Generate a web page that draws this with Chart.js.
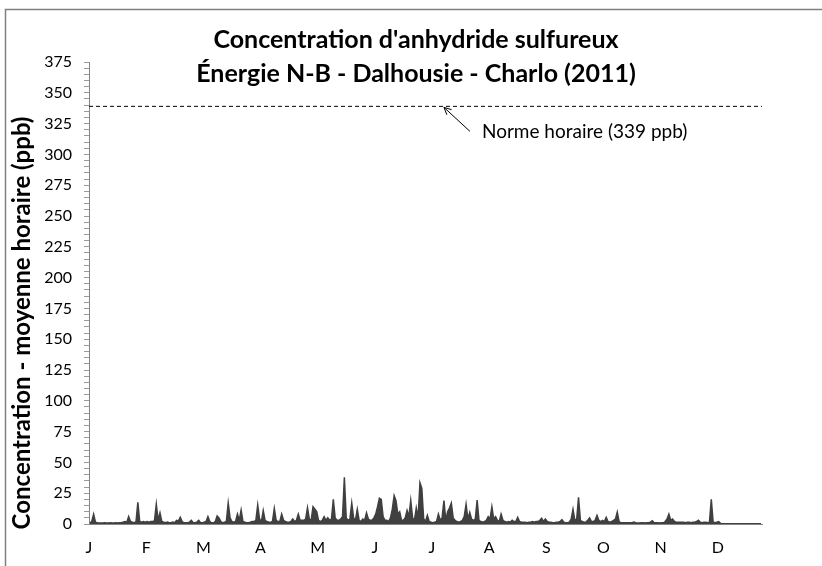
<!DOCTYPE html>
<html>
<head>
<meta charset="utf-8">
<script src="https://cdn.jsdelivr.net/npm/chart.js@4"></script>
<style>
html, body { margin: 0; padding: 0; background: #fff; }
</style>
</head>
<body>
<canvas id="canvas" width="822" height="566"></canvas>
<script>
// Titles and labels
var chartTitle = ["Concentration d'anhydride sulfureux", "Énergie N-B - Dalhousie - Charlo (2011)"];
var yAxisTitle = "Concentration - moyenne horaire (ppb)";
var normLabel = "Norme horaire (339 ppb)";
var normValue = 339;

// x axis: one label every 31 days
var monthLabels = ['J', 'F', 'M', 'A', 'M', 'J', 'J', 'A', 'S', 'O', 'N', 'D'];
var monthTicks = [0, 31, 62, 93, 124, 155, 186, 217, 248, 279, 310, 341];
var yMax = 375;

// daily peak of hourly SO2 (ppb)
var jan = [1, 2, 8, 1.5, 1, 0.8, 0.8, 0.8, 1, 0.8, 0.8, 1, 0.8, 0.8, 1, 0.8, 1, 1, 1.5, 2, 1.5, 6, 2, 1.5, 1, 2, 17.6, 2, 1.5, 2, 1.5];
var feb = [2, 1.5, 2, 2, 2.5, 16, 3, 9, 2, 1.5, 1, 1.5, 1, 1, 1.5, 1, 3, 2.5, 5.4, 2, 1, 1, 1, 1.5, 3, 1, 1, 1.5];
var mar = [3, 1, 1, 1.5, 2, 6, 2, 1, 1, 2, 6.5, 5, 2, 1, 1.5, 2, 17, 5, 2, 1.5, 2, 8, 3, 11.4, 2, 1.5, 1, 1, 1.5, 2, 2];
var apr = [3, 15.4, 4, 2, 11, 3, 2, 1.5, 1.5, 2, 12.7, 3, 2, 2, 8, 3, 2, 1.5, 1.5, 2, 4, 2, 3, 8, 3, 3, 3, 4, 13.3, 4];
var may = [3, 14, 12, 10, 3, 2, 3, 6, 3, 5, 3, 4, 20, 5, 3, 3, 4, 6, 38, 5, 3, 4, 17, 5, 3, 12, 3, 2, 4, 3, 9];
var jun = [4, 3, 3, 5, 8, 14, 21, 20, 6, 3, 3, 2, 5, 12, 23, 19, 8, 10, 3, 3, 5, 11, 6, 19, 5, 3, 13, 5, 33.5, 29];
var jul = [4, 2, 7, 2, 1.5, 1, 1.5, 2, 8, 3, 5, 19, 3, 10, 13, 17, 5, 3, 2, 1.5, 2, 3, 6, 16, 4, 9.5, 4, 3, 4, 19.5, 3];
var aug = [2, 1.5, 2, 3, 6, 4, 14, 4, 6, 3, 2, 8, 3, 2, 1.5, 2, 1.5, 3, 2, 2, 5.4, 2, 1.5, 1.5, 1.5, 1, 1.5, 1.5, 2, 1.5, 2];
var sep = [2, 3, 4.6, 2, 4, 2, 1.5, 1.5, 1, 1, 1.5, 1.5, 2, 3.5, 1.5, 1, 1, 1.5, 4, 12, 3, 4, 21.6, 3, 2, 1.5, 1.5, 3, 5, 2];
var oct = [2, 3, 7, 3, 2, 3, 2, 5.4, 2, 1.5, 2, 3, 4, 9.7, 2, 1, 1, 1, 1, 1, 1, 1, 1.5, 1, 0.8, 0.8, 1, 1, 0.8, 1, 1];
var nov = [1.5, 2.7, 1, 1, 1, 0.8, 1, 1, 2, 4, 8, 3, 4, 2, 1.5, 1.5, 1.5, 1.5, 1.5, 1, 1.5, 1.5, 1, 1.5, 1.5, 2, 3, 1.5, 1, 1.5];
var dec = [1.5, 1, 1.5, 20, 1.5, 1, 1.5, 2, 0.5, 0.3, 0.3, 0.3, 0.3, 0.3, 0.3, 0.3, 0.3, 0.3, 0.3, 0.3, 0.3, 0.3, 0.3, 0.3, 0.3, 0.3, 0.3, 0.3, 0.3, 0.3, 0.3];

var so2 = [].concat(jan, feb, mar, apr, may, jun, jul, aug, sep, oct, nov, dec);
var so2Points = so2.map(function (v, i) { return { x: i + 0.5, y: v }; });

var textPlugin = {
    id: 'textPlugin',
    beforeDraw: function (chart) {
        var c = chart.ctx;
        c.save();
        c.strokeStyle = '#808080';
        c.lineWidth = 1.5;
        c.beginPath();
        c.moveTo(5.5, 566);
        c.lineTo(5.5, 9.5);
        c.lineTo(822, 9.5);
        c.stroke();
        c.restore();
    },
    afterDraw: function (chart) {
        var c = chart.ctx;
        var xs = chart.scales.x, ys = chart.scales.y;
        c.save();
        c.fillStyle = '#000';
        c.textBaseline = 'middle';

        // chart title
        c.textAlign = 'center';
        c.font = 'bold 25px Lato';
        c.fillText(chartTitle[0], 416, 40);
        c.fillText(chartTitle[1], 416, 74);

        // y axis title
        c.save();
        c.translate(22, 323);
        c.rotate(-Math.PI / 2);
        c.font = 'bold 24px Lato';
        c.fillText(yAxisTitle, 0, 0);
        c.restore();

        // arrow pointing at the norm line
        var tipX = xs.getPixelForValue(192.5);
        var tipY = ys.getPixelForValue(normValue) + 1;
        var tailX = tipX + 26, tailY = tipY + 24;
        c.strokeStyle = '#000';
        c.lineWidth = 1;
        c.beginPath();
        c.moveTo(tailX, tailY);
        c.lineTo(tipX, tipY);
        var a = Math.atan2(tailY - tipY, tailX - tipX);
        c.moveTo(tipX + 8 * Math.cos(a - 0.45), tipY + 8 * Math.sin(a - 0.45));
        c.lineTo(tipX, tipY);
        c.lineTo(tipX + 8 * Math.cos(a + 0.45), tipY + 8 * Math.sin(a + 0.45));
        c.stroke();

        c.textAlign = 'left';
        c.font = '19px Lato';
        c.fillText(normLabel, tailX + 12, tailY + 1);
        c.restore();
    }
};

var ctx = document.getElementById('canvas').getContext('2d');
var myChart = new Chart(ctx, {
    type: 'line',
    data: {
        datasets: [{
            label: 'SO2',
            data: so2Points,
            borderColor: '#404040',
            backgroundColor: '#404040',
            borderWidth: 1.5,
            fill: 'origin',
            pointRadius: 0,
            tension: 0
        },
        {
            label: 'Norme',
            data: [{ x: 0, y: normValue }, { x: 365, y: normValue }],
            borderColor: '#000',
            borderWidth: 1,
            borderDash: [4, 3],
            fill: false,
            pointRadius: 0
        }]
    },
    options: {
        responsive: false,
        animation: false,
        layout: { padding: { top: 62, right: 60, bottom: 0, left: 0 } },
        plugins: {
            legend: { display: false },
            title: { display: false },
            tooltip: { enabled: false }
        },
        scales: {
            x: {
                type: 'linear',
                min: 0,
                max: 365,
                afterBuildTicks: function (s) {
                    s.ticks = monthTicks.map(function (v) { return { value: v }; });
                },
                afterFit: function (s) { s.height = 42; },
                ticks: {
                    callback: function (v, i) { return monthLabels[i]; },
                    font: { family: 'Lato', size: 16 },
                    color: '#000',
                    padding: 14,
                    maxRotation: 0,
                    autoSkip: false
                },
                grid: { display: false, drawTicks: false },
                border: { color: '#868686', width: 1 }
            },
            y: {
                min: 0,
                max: yMax,
                afterBuildTicks: function (s) {
                    var t = [];
                    for (var v = 0; v <= yMax; v += 5) t.push({ value: v });
                    s.ticks = t;
                },
                afterFit: function (s) { s.width = 89; },
                ticks: {
                    callback: function (v) { return v % 25 === 0 ? v : ''; },
                    font: { family: 'Lato', size: 16 },
                    color: '#000',
                    padding: 12,
                    autoSkip: false
                },
                grid: { drawOnChartArea: false, drawTicks: true, tickLength: 5, color: '#9a9a9a' },
                border: { color: '#868686', width: 1 }
            }
        }
    },
    plugins: [textPlugin]
});
</script>
</body>
</html>
